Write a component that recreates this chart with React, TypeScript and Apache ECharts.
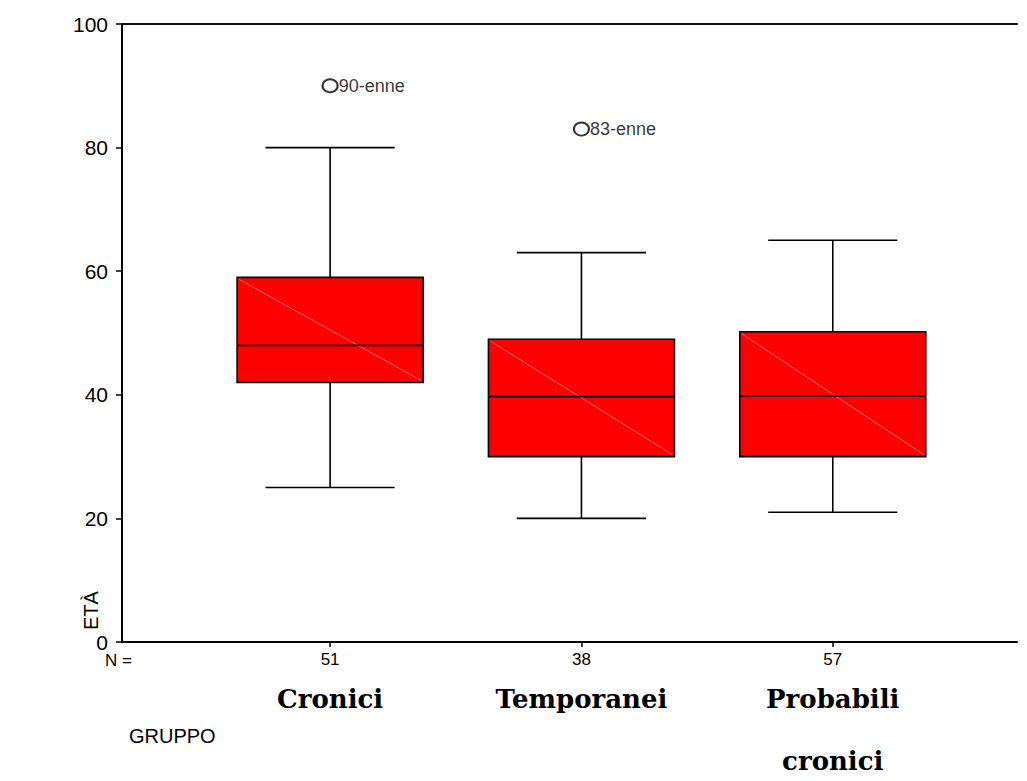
import React, { useEffect, useRef } from "react";
import * as echarts from "echarts";

const categories = ["Cronici", "Temporanei", "Probabili\ncronici"];
const positions = [1, 2, 3];
const counts = [51, 38, 57];
const lowWhisker = [25, 20, 21];
const q1 = [42, 30, 30];
const median = [48, 39.7, 39.8];
const q3 = [59, 49, 50.2];
const highWhisker = [80, 63, 65];
const outlierX = [1, 2];
const outlierValues = [90, 83];
const outlierLabels = ["90-enne", "83-enne"];
const yMin = 0;
const yMax = 100;
const yInterval = 20;

const SANS = "Arial, 'Liberation Sans', sans-serif";
const SERIF = "'DejaVu Serif', serif";

export default function App() {
  const ref = useRef<HTMLDivElement>(null);
  useEffect(() => {
    if (!ref.current) return;
    const chart = echarts.init(ref.current, undefined, { renderer: "svg" });
    const boxData = positions.map((p, i) => [p, lowWhisker[i], q1[i], median[i], q3[i], highWhisker[i]]);
    const outData = outlierX.map((x, i) => ({ value: [x, outlierValues[i]], name: outlierLabels[i] }));
    const boxHalf = 0.37;
    const capHalf = 0.257;
    const blk = "#000";
    chart.setOption({
      animation: false,
      backgroundColor: "#fff",
      grid: { left: 122, right: 10, top: 24, bottom: 139, containLabel: false, outerBoundsMode: "none" },
      xAxis: [
        {
          type: "value",
          min: 0.172,
          max: 3.733,
          position: "bottom",
          axisLine: { show: true, onZero: false, lineStyle: { color: blk, width: 2 } },
          axisTick: { show: true, customValues: positions, length: 5, lineStyle: { color: blk, width: 1.5 } },
          axisLabel: {
            customValues: positions,
            formatter: (v: number) => String(counts[positions.indexOf(Math.round(v))]),
            fontSize: 17,
            fontFamily: SANS,
            color: blk,
            margin: 9,
          },
          splitLine: { show: false },
        },
        {
          type: "value",
          min: 0.172,
          max: 3.733,
          position: "bottom",
          axisLine: { show: false },
          axisTick: { show: false },
          axisLabel: {
            customValues: positions,
            formatter: (v: number) => categories[positions.indexOf(Math.round(v))],
            fontSize: 26,
            fontFamily: SERIF,
            fontWeight: "bold",
            lineHeight: 62,
            color: blk,
            margin: 26,
          },
          splitLine: { show: false },
        },
        {
          type: "value",
          min: 0.172,
          max: 3.733,
          position: "top",
          axisLine: { show: true, onZero: false, lineStyle: { color: "#111", width: 2 } },
          axisTick: { show: false },
          axisLabel: { show: false },
          splitLine: { show: false },
        },
      ],
      yAxis: {
        type: "value",
        min: yMin,
        max: yMax,
        interval: yInterval,
        axisLine: { show: true, lineStyle: { color: blk, width: 2 } },
        axisTick: { show: true, length: 6, lineStyle: { color: blk, width: 1.5 } },
        axisLabel: { fontSize: 21, fontFamily: SANS, color: blk, margin: 14 },
        splitLine: { show: false },
      },
      graphic: [
        { type: "text", left: 105, top: 652, style: { text: "N =", fontSize: 17, fontFamily: SANS, fill: blk } },
        { type: "text", left: 129, top: 726, style: { text: "GRUPPO", fontSize: 20, fontFamily: SANS, fill: blk } },
        {
          type: "text",
          x: 81,
          y: 630,
          rotation: Math.PI / 2,
          style: { text: "ETÀ", fontSize: 20, fontFamily: SANS, fill: blk },
        },
      ],
      series: [
        {
          type: "custom",
          xAxisIndex: 0,
          yAxisIndex: 0,
          data: boxData,
          renderItem: (params: any, api: any) => {
            const x = api.value(0);
            const lo = api.value(1);
            const a = api.value(2);
            const m = api.value(3);
            const b = api.value(4);
            const hi = api.value(5);
            const pLoC = api.coord([x, lo]);
            const pA = api.coord([x, a]);
            const pB = api.coord([x, b]);
            const pHiC = api.coord([x, hi]);
            const left = api.coord([x - boxHalf, a])[0];
            const right = api.coord([x + boxHalf, a])[0];
            const capL = api.coord([x - capHalf, a])[0];
            const capR = api.coord([x + capHalf, a])[0];
            const pM = api.coord([x, m]);
            const ls = { stroke: blk, lineWidth: 1.6 };
            return {
              type: "group",
              children: [
                { type: "line", shape: { x1: pLoC[0], y1: pLoC[1], x2: pA[0], y2: pA[1] }, style: ls },
                { type: "line", shape: { x1: pB[0], y1: pB[1], x2: pHiC[0], y2: pHiC[1] }, style: ls },
                { type: "line", shape: { x1: capL, y1: pLoC[1], x2: capR, y2: pLoC[1] }, style: ls },
                { type: "line", shape: { x1: capL, y1: pHiC[1], x2: capR, y2: pHiC[1] }, style: ls },
                {
                  type: "rect",
                  shape: { x: left, y: pB[1], width: right - left, height: pA[1] - pB[1] },
                  style: { fill: "#ff0000", stroke: blk, lineWidth: 1.6 },
                },
                {
                  type: "line",
                  shape: { x1: left + 2, y1: pB[1] + 2, x2: right - 2, y2: pA[1] - 2 },
                  style: { stroke: "#ff6a6a", lineWidth: 1 },
                },
                { type: "line", shape: { x1: left, y1: pM[1], x2: right, y2: pM[1] }, style: ls },
              ],
            };
          },
        },
        {
          type: "scatter",
          xAxisIndex: 0,
          yAxisIndex: 0,
          data: outData,
          symbol: "circle",
          symbolSize: [15, 13],
          itemStyle: { color: "#fff", borderColor: blk, borderWidth: 2 },
          label: {
            show: true,
            position: "right",
            distance: 0,
            formatter: (p: any) => p.name,
            fontSize: 18,
            fontFamily: SANS,
            color: blk,
          },
        },
      ],
    });
    return () => chart.dispose();
  }, []);
  return (
    <div
      ref={ref}
      style={{ position: "fixed", left: 0, top: 0, width: 1027, height: 781, background: "#fff" }}
    />
  );
}
